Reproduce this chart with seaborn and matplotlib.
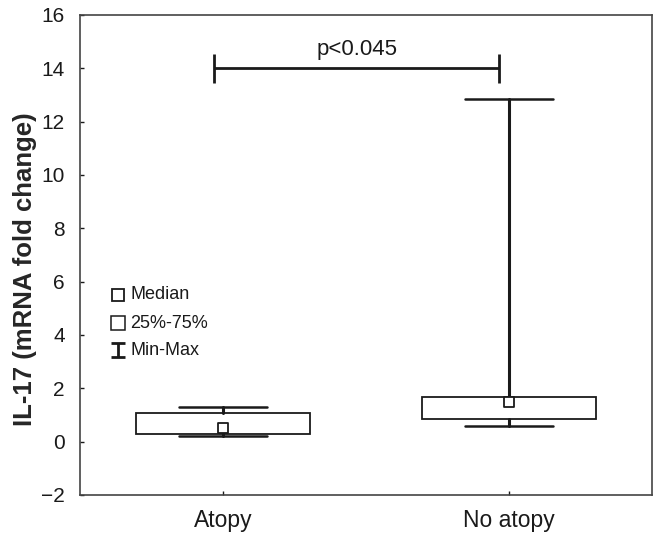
import matplotlib
matplotlib.use("Agg")
from matplotlib import pyplot as plt
from matplotlib.path import Path
import seaborn as sns
import pandas as pd

# Значения
groups = ["Atopy", "No atopy"]
medians = [0.50, 1.47]
q1 = [0.28, 0.84]
q3 = [1.06, 1.69]
mins = [0.22, 0.59]
maxs = [1.31, 12.86]
p_text = "p<0.045"
p_level = 14.0

sns.set_style("ticks")
plt.rcParams["font.family"] = ["Liberation Sans", "DejaVu Sans"]
plt.rcParams["axes.unicode_minus"] = True

ink = "#1a1a1a"
fig = plt.figure(figsize=(6.54, 5.33), dpi=100)
ax = fig.add_axes([80 / 654, 1 - 495 / 533, 572 / 654, 480 / 533])

pos = list(range(len(groups)))
stats = [dict(med=m, q1=a, q3=b, whislo=lo, whishi=hi, fliers=[])
         for m, a, b, lo, hi in zip(medians, q1, q3, mins, maxs)]
ax.bxp(stats, positions=pos, widths=0.61, capwidths=0.31, patch_artist=True,
       boxprops=dict(facecolor="white", edgecolor=ink, linewidth=1.3),
       whiskerprops=dict(color=ink, linewidth=2.2),
       capprops=dict(color=ink, linewidth=1.8),
       medianprops=dict(linewidth=0), manage_ticks=False, zorder=2)

# медианы квадратиками
df = pd.DataFrame({"x": pos, "Median": medians})
sns.scatterplot(data=df, x="x", y="Median", marker="s", s=62, color="white",
                edgecolor=ink, linewidth=1.3, zorder=4, ax=ax, legend=False)

# скобка значимости
bl, br = pos[0] - 0.03, pos[1] - 0.035
ax.plot([bl, br], [p_level, p_level], color=ink, lw=2.0, solid_capstyle="butt")
for xx in (bl, br):
    ax.plot([xx, xx], [p_level - 0.55, p_level + 0.55], color=ink, lw=2.0,
            solid_capstyle="butt")
ax.text((bl + br) / 2, p_level + 0.3, p_text, ha="center", va="bottom",
        fontsize=16, color=ink)

# легенда вручную
ibeam = Path([(-0.45, -0.5), (0.45, -0.5), (0, -0.5), (0, 0.5), (-0.45, 0.5), (0.45, 0.5)],
             [Path.MOVETO, Path.LINETO, Path.MOVETO, Path.LINETO, Path.MOVETO, Path.LINETO])
lx, tx = 0.066, 0.088
ax.plot(lx, 0.417, marker="s", ms=8, mfc="white", mec=ink, mew=1.3, transform=ax.transAxes)
ax.plot(lx, 0.358, marker="s", ms=10.5, mfc="white", mec=ink, mew=1.1, transform=ax.transAxes)
ax.plot(lx, 0.302, marker=ibeam, ms=10.5, color=ink, mew=2.0, transform=ax.transAxes)
for yy, lab in [(0.417, "Median"), (0.358, "25%-75%"), (0.302, "Min-Max")]:
    ax.text(tx, yy, lab, transform=ax.transAxes, va="center", ha="left",
            fontsize=13, color=ink)

ax.set_xlim(-0.5, 1.5)
ax.set_ylim(-2, 16)
ax.set_yticks(range(-2, 17, 2))
ax.set_xticks(pos)
ax.set_xticklabels(groups)
ax.set_xlabel("")
ax.set_ylabel("IL-17 (mRNA fold change)", fontsize=18.5, fontweight="bold")
ax.yaxis.set_label_coords(-0.075, 0.471)
ax.tick_params(direction="in", length=3, width=1, colors=ink)
ax.tick_params(axis="y", labelsize=15, pad=11)
ax.tick_params(axis="x", labelsize=16.5, pad=10)
for s in ax.spines.values():
    s.set_visible(True)
    s.set_color("#444444")
    s.set_linewidth(1.2)

plt.savefig("out.png", dpi=100)
plt.close()
